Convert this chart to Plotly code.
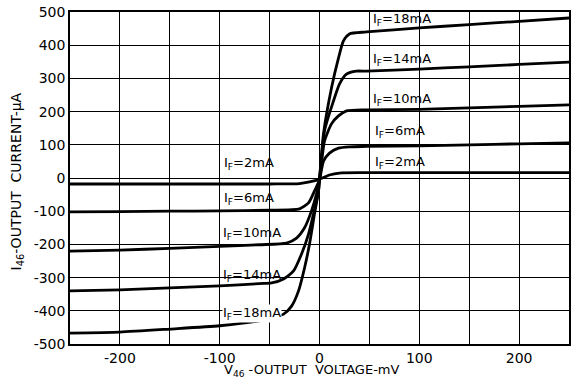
import plotly.graph_objects as go

# ---- data ----
x_18 = [-250, -200, -150, -100, -60, -46, -36, -28, -21, -15, -10, -5, -1, 0, 4, 12, 19, 24, 30, 47, 100, 150, 200, 250]
y_18 = [-467, -464, -455, -445, -430, -419, -410, -386, -340, -271, -199, -108, -39, -5, 133, 271, 361, 413, 434, 440, 452, 462, 472, 482]

x_14 = [-250, -200, -150, -100, -60, -48, -36, -26, -18, -11, -6, -1, 0, 5, 14, 20, 27, 37, 47, 100, 150, 200, 250]
y_14 = [-340, -337, -331, -325, -318, -316, -304, -280, -229, -169, -108, -39, -5, 142, 232, 283, 313, 322, 322, 328, 335, 342, 349]

x_10 = [-250, -200, -150, -100, -60, -33, -23, -15, -8, -3, 0, 5, 12, 19, 27, 47, 100, 150, 200, 250]
y_10 = [-220, -217, -212, -206, -201, -196, -181, -150, -99, -48, -5, 111, 163, 187, 202, 205, 207, 211, 216, 220]

x_6 = [-250, -200, -150, -100, -50, -20, -11, -5, 0, 4, 10, 19, 30, 47, 100, 150, 200, 250]
y_6 = [-102, -101, -100, -99, -97, -93, -75, -39, -5, 51, 75, 90, 94, 95, 97, 100, 103, 106]

x_2 = [-250, -200, -150, -100, -50, -20, -10, 0, 10, 20, 47, 100, 150, 200, 250]
y_2 = [-18, -18, -18, -18, -18, -17, -12, -4, 9, 15, 16, 16, 16, 16, 16]

curve_labels = ["I<sub>F</sub>=18mA", "I<sub>F</sub>=14mA", "I<sub>F</sub>=10mA",
                "I<sub>F</sub>=6mA", "I<sub>F</sub>=2mA"]
label_pos_x = [52, 52, 52, 54, 54]
label_pos_y = [478, 356, 236, 141, 47]
label_neg_x = [-98, -98, -98, -97, -97]
label_neg_y = [-408, -293, -167, -61, 44]

x_ticks = [-200, -100, 0, 100, 200]
y_ticks = [500, 400, 300, 200, 100, 0, -100, -200, -300, -400, -500]

x_title = "V<sub>46</sub> -OUTPUT  VOLTAGE-mV"
y_title = "I<sub>46</sub>-OUTPUT  CURRENT-μA"

FONT = "DejaVu Sans"

fig = go.Figure()
for xs, ys in [(x_18, y_18), (x_14, y_14), (x_10, y_10), (x_6, y_6), (x_2, y_2)]:
    fig.add_trace(go.Scatter(x=xs, y=ys, mode="lines",
                             line=dict(color="black", width=2.8, shape="spline", smoothing=0.6),
                             showlegend=False, hoverinfo="skip"))

for i, t in enumerate(curve_labels):
    fig.add_annotation(x=label_pos_x[i], y=label_pos_y[i], text=t, showarrow=False,
                       xanchor="left", yanchor="middle",
                       font=dict(family=FONT, size=13, color="black"))
    fig.add_annotation(x=label_neg_x[i], y=label_neg_y[i], text=t, showarrow=False,
                       xanchor="left", yanchor="middle",
                       bgcolor="white" if i == 0 else "rgba(0,0,0,0)", borderpad=0,
                       font=dict(family=FONT, size=13, color="black"))

# axis titles as paper annotations for exact placement
fig.add_annotation(x=0.484, y=-0.079, xref="paper", yref="paper", text=x_title,
                   showarrow=False, xanchor="center", yanchor="middle",
                   font=dict(family=FONT, size=13, color="black"))
fig.add_annotation(x=-0.106, y=0.49, xref="paper", yref="paper", text=y_title,
                   showarrow=False, xanchor="center", yanchor="middle", textangle=-90,
                   font=dict(family=FONT, size=14, color="black"))

fig.update_layout(
    width=571, height=378,
    margin=dict(l=70, r=2, t=12, b=34, autoexpand=False),
    paper_bgcolor="white", plot_bgcolor="white",
    font=dict(family=FONT, size=14, color="black"),
)
fig.update_xaxes(range=[-250, 250], tickvals=x_ticks, ticktext=[str(v) for v in x_ticks],
                 showgrid=True, gridcolor="black", gridwidth=1.2,
                 minor=dict(dtick=50, tick0=0, showgrid=True, gridcolor="black", gridwidth=1.2),
                 showline=True, linecolor="black", linewidth=1.5, mirror=True,
                 zeroline=False, ticks="", tickfont=dict(size=14), automargin=False)
fig.update_yaxes(range=[-500, 500], tickvals=y_ticks, ticktext=[str(v) for v in y_ticks],
                 showgrid=True, gridcolor="black", gridwidth=1.2,
                 showline=True, linecolor="black", linewidth=1.5, mirror=True,
                 zeroline=False, ticks="", tickfont=dict(size=14), automargin=False)

fig.write_html("out.html", config={"displayModeBar": False},
               post_script="document.body.style.margin='0';document.body.style.overflow='hidden';")
